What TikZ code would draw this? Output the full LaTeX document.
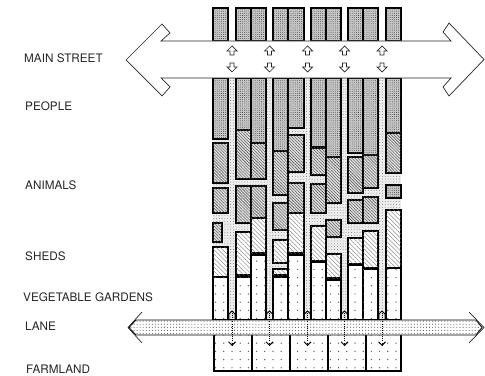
\documentclass[tikz,border=0pt]{standalone}
\usepackage{fontspec}
\newfontfamily\helv{TeX Gyre Heros}
\usetikzlibrary{
  arrows.meta,   % Straight Barb tips
  patterns,      % pattern fills
  patterns.meta  % Dots and Lines with options
}
\tikzset{
  lot line/.style={
    draw=black,
    line width=1.1pt
  },
  people/.style={
    lot line,
    fill=gray!45,
    postaction={pattern={Dots[distance=1.8pt, radius=0.35pt]}, pattern color=black!80}
  },
  animals/.style={
    lot line,
    fill=gray!28,
    postaction={pattern={Lines[angle=-45, distance=1.8pt, line width=0.35pt]}, pattern color=black!70}
  },
  sheds/.style={
    lot line,
    fill=white,
    postaction={pattern={Lines[angle=-45, distance=2.6pt, line width=0.3pt]}, pattern color=black!55}
  },
  garden/.style={
    lot line,
    fill=white,
    postaction={pattern={Dots[distance=7pt, radius=0.6pt, xshift=2pt]}, pattern color=black!65}
  },
  yard/.style={
    fill=gray!14,
    postaction={pattern={Dots[distance=2.4pt, radius=0.4pt]}, pattern color=black!50}
  },
  lane fill/.style={
    draw=black,
    line width=0.7pt,
    fill=white,
    postaction={pattern={Dots[distance=2.6pt, radius=0.45pt]}, pattern color=black!70}
  },
  street line/.style={
    draw=black!85,
    line width=0.6pt
  },
  label text/.style={
    anchor=west,
    inner sep=0pt,
    text=black!85,
    font=\helv\fontsize{10}{12}\selectfont
  }
}

\begin{document}
\begin{tikzpicture}[x=0.03cm, y=-0.03cm]
  \useasboundingbox (0,0) rectangle (485,376);

  % ======================= houses on the main street =======================
  \foreach \xa/\xb in {213/228, 236/251, 251/266, 273/288, 288/304,
                       311/326, 326/341, 348/363, 363/378, 386/401}
    \draw[people] (\xa,8) rectangle (\xb,41);

  % ======================= back of the lots =======================
  % yards and alleys between the blocks
  \path[yard] (213,78) rectangle (401,320);

  % people (front houses)
  \foreach \xa/\xb/\ya/\yb in {213/228/78/139, 236/251/78/130, 251/266/78/143,
                               273/288/78/151, 288/304/78/128, 311/326/78/147,
                               326/341/78/157, 348/363/78/153, 363/378/78/155,
                               386/401/78/133, 386/401/185/198}
    \draw[people] (\xa,\ya) rectangle (\xb,\yb);

  % animals
  \foreach \xa/\xb/\ya/\yb in {213/228/143/183, 213/228/188/213, 213/222/223/242,
                               236/251/130/179, 236/251/186/223,
                               251/266/143/179, 251/266/186/218,
                               273/288/151/195, 273/288/203/230,
                               288/304/135/172, 288/304/183/213,
                               311/326/148/175, 311/326/184/213,
                               326/341/157/203, 326/341/220/237,
                               348/363/157/193, 348/363/200/223,
                               363/378/155/188, 363/378/197/223,
                               386/401/133/173}
    \draw[animals] (\xa,\ya) rectangle (\xb,\yb);

  % sheds
  \foreach \xa/\xb/\ya/\yb in {213/228/247/277, 236/251/232/275, 251/266/218/253,
                               273/288/240/263, 273/288/269/275, 288/304/213/253,
                               311/326/226/261, 326/341/254/278, 348/363/238/264,
                               363/378/231/268, 386/401/210/268}
    \draw[sheds] (\xa,\ya) rectangle (\xb,\yb);

  % vegetable gardens, down to the lane
  \foreach \xa/\xb/\ya in {213/228/277, 236/251/277, 251/266/255, 273/288/277,
                           288/304/255, 311/326/262, 326/341/280, 348/363/265,
                           363/378/269, 386/401/268}
    \draw[garden] (\xa,\ya) rectangle (\xb,320);

  % farmland behind the lane
  \foreach \xa/\xb in {214/252, 252/290, 290/328, 328/366, 366/401}
    \draw[garden] (\xa,320) rectangle (\xb,371);

  % ======================= main street =======================
  \draw[street line, fill=white]
    (126,60) -- (162,24) -- (170,33) -- (161,41) -- (451,41) -- (443,32)
    -- (449,23) -- (484,59.5) -- (449,96) -- (443,87) -- (451,78)
    -- (161,78) -- (170,87) -- (162,96) -- cycle;

  % access from the street into the alleys
  \foreach \cx in {232, 269.5, 307.5, 344.5, 382} {
    \draw[street line, fill=white] (\cx,46) -- ++(5,5) -- ++(-3,0) -- ++(0,4)
      -- ++(-4,0) -- ++(0,-4) -- ++(-3,0) -- cycle;
    \draw[street line, fill=white] (\cx,72) -- ++(5,-5) -- ++(-3,0) -- ++(0,-4)
      -- ++(-4,0) -- ++(0,4) -- ++(-3,0) -- cycle;
  }

  % ======================= lane =======================
  \draw[lane fill] (129,327.5) -- (136,320) -- (476,320) -- (482,327.5)
    -- (476,335) -- (136,335) -- cycle;
  \draw[street line] (142,312) -- (128,327.5) -- (142,343);
  \draw[street line] (469,312) -- (484,327.5) -- (469,343);

  % alleys crossing the lane into the fields
  \foreach \cx in {232, 269.5, 307.5, 344.5, 382} {
    \draw[line width=0.8pt, densely dotted, -{Straight Barb[length=3pt, width=6pt]}]
      (\cx,313) -- (\cx,346);
    \draw[line width=0.8pt] (\cx-3,319) -- (\cx-3,314) -- (\cx,311)
      -- (\cx+3,314) -- (\cx+3,319);
  }

  % ======================= labels =======================
  \node[label text] (mainstreet) at (24,58)  {MAIN STREET};
  \node[label text] (people)     at (25,106) {PEOPLE};
  \node[label text] (animals)    at (25,185) {ANIMALS};
  \node[label text] (sheds)      at (25,256) {SHEDS};
  \node[label text] (gardens)    at (23,297) {VEGETABLE GARDENS};
  \node[label text] (lane)       at (25,326) {LANE};
  \node[label text] (farmland)   at (26,369) {FARMLAND};

\end{tikzpicture}
\end{document}
